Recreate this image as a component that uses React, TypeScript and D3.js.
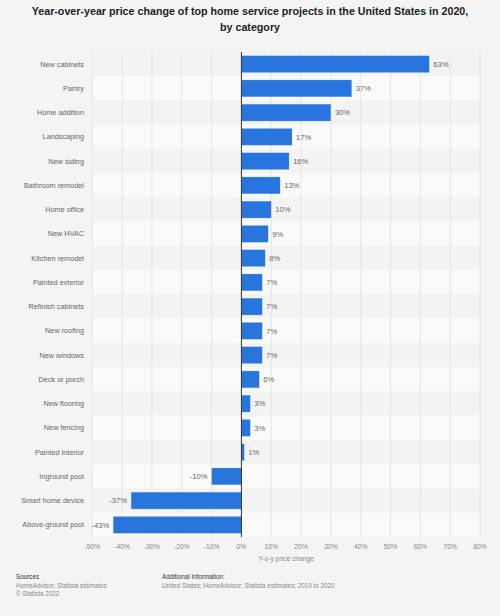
import React, { useEffect, useRef } from 'react';
import * as d3 from 'd3';

const categories = [
  'New cabinets', 'Pantry', 'Home addition', 'Landscaping', 'New siding',
  'Bathroom remodel', 'Home office', 'New HVAC', 'Kitchen remodel', 'Painted exterior',
  'Refinish cabinets', 'New roofing', 'New windows', 'Deck or porch', 'New flooring',
  'New fencing', 'Painted interior', 'Inground pool', 'Smart home device', 'Above-ground pool',
];
const values = [63, 37, 30, 17, 16, 13, 10, 9, 8, 7, 7, 7, 7, 6, 3, 3, 1, -10, -37, -43];
const tickValues = [-50, -40, -30, -20, -10, 0, 10, 20, 30, 40, 50, 60, 70, 80];

export default function App() {
  const ref = useRef<SVGSVGElement>(null);

  useEffect(() => {
    const svg = d3.select(ref.current);
    svg.selectAll('*').remove();
    const W = 500, H = 616;
    const left = 92.3, right = 480, top = 52, bottom = 537;
    const font = '"Liberation Sans", Arial, sans-serif';

    svg.append('rect').attr('width', W).attr('height', H).attr('fill', '#f4f4f4');

    const x = d3.scaleLinear().domain([-50, 80]).range([left, right]);
    const y = d3.scaleBand().domain(categories).range([top, bottom]).paddingInner(0.3).paddingOuter(0.15);
    const rowH = (bottom - top) / categories.length;

    // stripes
    svg.append('g').selectAll('rect').data(categories).join('rect')
      .attr('x', left).attr('width', right - left)
      .attr('y', (_, i) => top + i * rowH)
      .attr('height', rowH)
      .attr('fill', (_, i) => (i % 2 === 0 ? '#f3f3f3' : '#fafafa'));

    // grid
    svg.append('g').selectAll('line').data(tickValues).join('line')
      .attr('x1', d => x(d)).attr('x2', d => x(d))
      .attr('y1', top).attr('y2', bottom)
      .attr('stroke', '#e4e4e4').attr('stroke-width', 1);

    // bars
    svg.append('g').selectAll('rect').data(values).join('rect')
      .attr('x', d => x(Math.min(0, d)))
      .attr('width', d => Math.abs(x(d) - x(0)))
      .attr('y', (_, i) => y(categories[i])!)
      .attr('height', y.bandwidth())
      .attr('fill', '#2876dd')
      .attr('stroke', '#ffffff').attr('stroke-opacity', 0.35).attr('stroke-width', 0.6);

    // zero line
    svg.append('line')
      .attr('x1', x(0)).attr('x2', x(0)).attr('y1', top).attr('y2', bottom)
      .attr('stroke', '#333').attr('stroke-width', 1);

    // value labels
    svg.append('g').selectAll('text').data(values).join('text')
      .attr('x', d => (d >= 0 ? x(d) + 4 : x(d) - 4))
      .attr('y', (_, i) => y(categories[i])! + y.bandwidth() / 2)
      .attr('dy', '0.35em')
      .attr('text-anchor', d => (d >= 0 ? 'start' : 'end'))
      .attr('font-family', font).attr('font-size', 7.6).attr('fill', '#666')
      .text(d => `${d}%`);

    // category labels
    svg.append('g').selectAll('text').data(categories).join('text')
      .attr('x', 84)
      .attr('y', d => y(d)! + y.bandwidth() / 2)
      .attr('dy', '0.35em')
      .attr('text-anchor', 'end')
      .attr('font-family', font).attr('font-size', 7.3).attr('fill', '#666')
      .text(d => d);

    // x tick labels
    svg.append('g').selectAll('text').data(tickValues).join('text')
      .attr('x', d => x(d))
      .attr('y', 549)
      .attr('text-anchor', 'middle')
      .attr('font-family', font).attr('font-size', 6.7).attr('fill', '#888')
      .text(d => `${d}%`);

    svg.append('text')
      .attr('x', x(15)).attr('y', 561)
      .attr('text-anchor', 'middle')
      .attr('font-family', font).attr('font-size', 6.7).attr('fill', '#888')
      .text('Y-o-y price change');

    // title
    const title = svg.append('text')
      .attr('text-anchor', 'middle')
      .attr('font-family', font).attr('font-size', 10.7).attr('font-weight', 'bold').attr('fill', '#222');
    title.append('tspan').attr('x', 250).attr('y', 15)
      .text('Year-over-year price change of top home service projects in the United States in 2020,');
    title.append('tspan').attr('x', 250).attr('y', 31).text('by category');

    // footer
    const foot = svg.append('g').attr('font-family', font).attr('font-size', 6.3);
    foot.append('text').attr('x', 16).attr('y', 579).attr('fill', '#333').text('Sources');
    foot.append('text').attr('x', 16).attr('y', 587.5).attr('fill', '#888').text('HomeAdvisor; Statista estimates');
    foot.append('text').attr('x', 16).attr('y', 596).attr('fill', '#888').text('© Statista 2022');
    foot.append('text').attr('x', 162).attr('y', 579).attr('fill', '#333').text('Additional Information:');
    foot.append('text').attr('x', 162).attr('y', 587.5).attr('fill', '#888')
      .text('United States; HomeAdvisor; Statista estimates; 2019 to 2020');
  }, []);

  return (
    <div style={{ position: 'absolute', left: 0, top: 0 }}>
      <svg ref={ref} width={500} height={616} style={{ display: 'block' }} />
    </div>
  );
}
